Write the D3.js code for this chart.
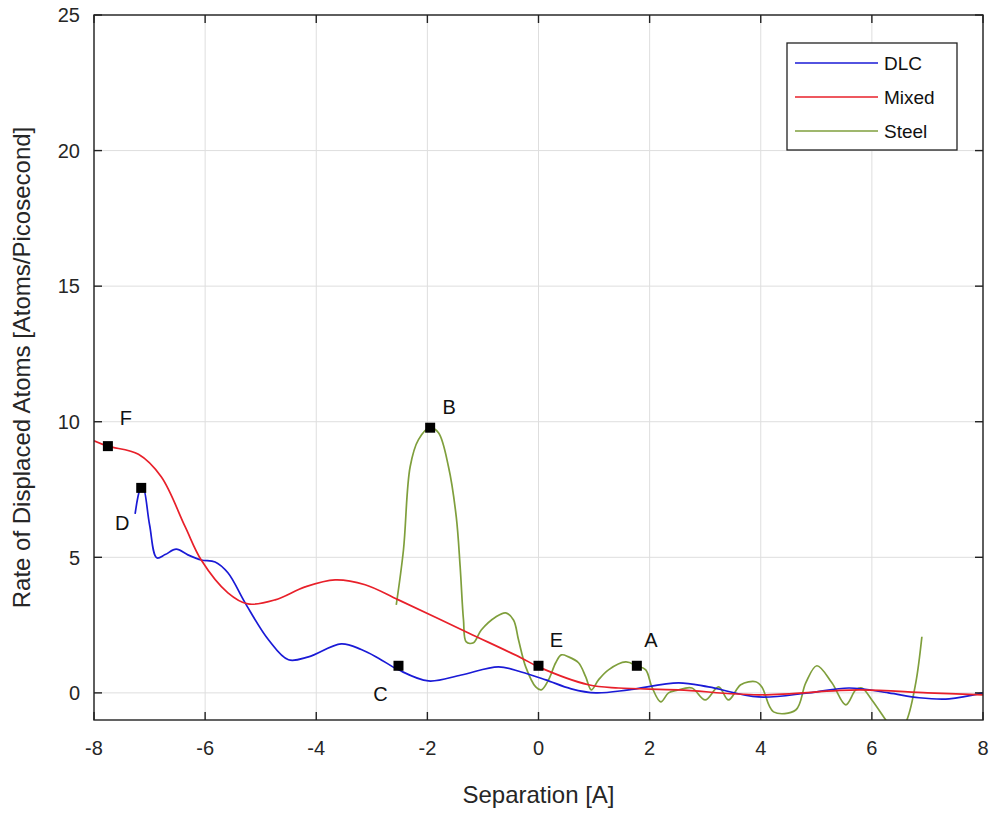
<!DOCTYPE html>
<html><head><meta charset="utf-8">
<script src="https://cdn.jsdelivr.net/npm/d3@7/dist/d3.min.js"></script>
<style>body{margin:0;background:#fff;} svg{display:block;}</style>
</head><body>
<script>
const xTicks = [-8,-6,-4,-2,0,2,4,6,8];
const yTicks = [0,5,10,15,20,25];

const dlcX = [-7.26,-7.17,-7.12,-7.0,-6.87,-6.72,-6.52,-6.31,-6.07,-5.82,-5.59,-5.28,-4.86,-4.5,-4.14,-3.55,-3.19,-2.88,-2.52,-1.98,-1.39,-0.72,-0.31,0.13,0.59,1.03,1.62,2.52,3.06,3.96,4.86,5.59,6.3,6.85,7.39,8.0];
const dlcY = [6.6,7.5,7.6,6.2,4.98,5.1,5.3,5.09,4.9,4.83,4.43,3.32,1.96,1.22,1.33,1.81,1.6,1.28,0.85,0.44,0.66,0.96,0.77,0.48,0.15,0.0,0.11,0.37,0.22,-0.15,0.0,0.18,0.0,-0.18,-0.22,0.0];

const mixedX = [-8,-7.75,-7.2,-6.79,-6.36,-6.07,-5.59,-5.23,-4.74,-4.2,-3.66,-3.12,-2.52,-1.26,-0.31,0,0.9,1.44,2.52,3.96,5.77,7.0,8.0];
const mixedY = [9.3,9.1,8.8,7.97,6.13,4.9,3.69,3.28,3.43,3.91,4.17,3.99,3.43,2.21,1.29,0.96,0.3,0.18,0.11,-0.07,0.11,0.0,-0.07];

const steelX = [-2.56,-2.43,-2.31,-2.16,-1.95,-1.8,-1.62,-1.48,-1.41,-1.35,-1.3,-1.17,-1.03,-0.77,-0.59,-0.45,-0.36,-0.23,-0.05,0.05,0.18,0.31,0.41,0.54,0.72,0.85,0.95,1.08,1.26,1.57,1.77,1.93,2.04,2.2,2.34,2.5,2.76,3.0,3.24,3.42,3.64,3.91,4.02,4.23,4.63,4.81,5.01,5.28,5.53,5.71,5.82,6.0,6.25,6.45,6.63,6.79,6.9];
const steelY = [3.25,5.28,8.34,9.34,9.78,9.59,8.34,6.49,4.65,2.69,1.88,1.85,2.32,2.8,2.95,2.69,1.96,0.96,0.22,0.11,0.48,1.11,1.4,1.33,1.11,0.59,0.11,0.48,0.85,1.14,1.0,0.85,0.22,-0.33,0.0,0.1,0.18,-0.26,0.22,-0.26,0.3,0.41,0.22,-0.7,-0.63,0.37,1.0,0.37,-0.44,0.11,0.18,-0.26,-1.0,-1.6,-1.0,0.37,2.07];

const markerLabels = ["F","D","B","C","E","A"];
const markerX = [-7.75,-7.15,-1.95,-2.52,0.0,1.77];
const markerY = [9.1,7.56,9.78,1.0,1.0,1.0];

const seriesNames = ["DLC","Mixed","Steel"];
const seriesColors = ["#1a1ad6","#e8202a","#7f9f3c"];

const W = 995, H = 816;
const m = {left:94, right:12, top:15, bottom:96};
const svg = d3.select("body").append("svg").attr("width",W).attr("height",H)
  .style("font-family","'Liberation Sans', Arial, sans-serif");

const x = d3.scaleLinear().domain([-8,8]).range([m.left, W-m.right]);
const y = d3.scaleLinear().domain([-1,25]).range([H-m.bottom, m.top]);

// grid
const g = svg.append("g");
g.selectAll(".gx").data(xTicks).enter().append("line")
  .attr("x1",d=>x(d)).attr("x2",d=>x(d)).attr("y1",y(-1)).attr("y2",y(25))
  .attr("stroke","#dedede").attr("stroke-width",1);
g.selectAll(".gy").data(yTicks).enter().append("line")
  .attr("y1",d=>y(d)).attr("y2",d=>y(d)).attr("x1",x(-8)).attr("x2",x(8))
  .attr("stroke","#dedede").attr("stroke-width",1);

// clip
svg.append("defs").append("clipPath").attr("id","clip").append("rect")
  .attr("x",x(-8)).attr("y",y(25)).attr("width",x(8)-x(-8)).attr("height",y(-1)-y(25));

const line = d3.line().x(d=>x(d[0])).y(d=>y(d[1])).curve(d3.curveCatmullRom.alpha(0.5));
const plot = svg.append("g").attr("clip-path","url(#clip)");
const datasets = [d3.zip(dlcX,dlcY), d3.zip(mixedX,mixedY), d3.zip(steelX,steelY)];
[2,0,1].forEach(i=>{
  plot.append("path").datum(datasets[i]).attr("d",line)
    .attr("fill","none").attr("stroke",seriesColors[i]).attr("stroke-width",1.7);
});

// markers
const ms = 10;
svg.selectAll(".mk").data(d3.range(markerX.length)).enter().append("rect")
  .attr("x",i=>x(markerX[i])-ms/2).attr("y",i=>y(markerY[i])-ms/2)
  .attr("width",ms).attr("height",ms).attr("fill","#000");
const labOff = {F:[18,-28],D:[-19,35],B:[19,-21],C:[-18,28],E:[18,-26],A:[14,-26]};
svg.selectAll(".ml").data(d3.range(markerX.length)).enter().append("text")
  .attr("x",i=>x(markerX[i])+labOff[markerLabels[i]][0])
  .attr("y",i=>y(markerY[i])+labOff[markerLabels[i]][1])
  .attr("text-anchor","middle").attr("dominant-baseline","central")
  .attr("font-size",20).attr("fill","#111").text(i=>markerLabels[i]);

// axes box
const tl = 8;
const ax = svg.append("g").attr("stroke","#222").attr("stroke-width",1.4);
ax.append("rect").attr("x",x(-8)).attr("y",y(25)).attr("width",x(8)-x(-8)).attr("height",y(-1)-y(25)).attr("fill","none");
xTicks.forEach(t=>{
  ax.append("line").attr("x1",x(t)).attr("x2",x(t)).attr("y1",y(-1)).attr("y2",y(-1)-tl);
  ax.append("line").attr("x1",x(t)).attr("x2",x(t)).attr("y1",y(25)).attr("y2",y(25)+tl);
});
yTicks.forEach(t=>{
  ax.append("line").attr("y1",y(t)).attr("y2",y(t)).attr("x1",x(-8)).attr("x2",x(-8)+tl);
  ax.append("line").attr("y1",y(t)).attr("y2",y(t)).attr("x1",x(8)).attr("x2",x(8)-tl);
});
svg.selectAll(".xt").data(xTicks).enter().append("text")
  .attr("x",d=>x(d)).attr("y",y(-1)+35).attr("text-anchor","middle")
  .attr("font-size",20).attr("fill","#262626").text(d=>d);
svg.selectAll(".yt").data(yTicks).enter().append("text")
  .attr("x",x(-8)-14).attr("y",d=>y(d)).attr("dy","0.36em").attr("text-anchor","end")
  .attr("font-size",20).attr("fill","#262626").text(d=>d);

svg.append("text").attr("x",x(0)).attr("y",y(-1)+83).attr("text-anchor","middle")
  .attr("font-size",24).attr("fill","#262626").text("Separation [A]");
svg.append("text").attr("transform",`translate(30,${(y(-1)+y(25))/2}) rotate(-90)`)
  .attr("text-anchor","middle").attr("font-size",24).attr("fill","#262626")
  .text("Rate of Displaced Atoms [Atoms/Picosecond]");

// legend
const lg = svg.append("g").attr("transform","translate(787,43)");
lg.append("rect").attr("width",170).attr("height",107).attr("fill","#fff").attr("stroke","#222").attr("stroke-width",1.3);
seriesNames.forEach((n,i)=>{
  const yy = 20 + i*34;
  lg.append("line").attr("x1",8).attr("x2",91).attr("y1",yy).attr("y2",yy).attr("stroke",seriesColors[i]).attr("stroke-width",1.7);
  lg.append("text").attr("x",97).attr("y",yy).attr("dy","0.36em").attr("font-size",19).attr("fill","#111").text(n);
});
</script>
</body></html>
